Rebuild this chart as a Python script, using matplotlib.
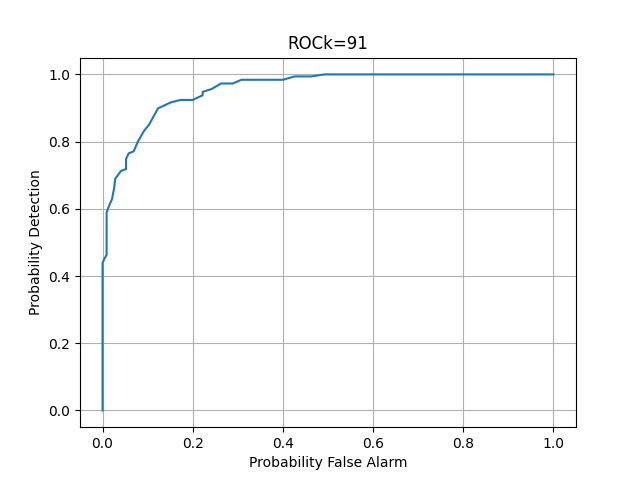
import matplotlib
matplotlib.use("Agg")
import matplotlib.pyplot as plt

# points
pfa = [0.0, 0.0, 0.004, 0.009, 0.009, 0.013, 0.021, 0.026, 0.028, 0.041, 0.052, 0.052,
       0.058, 0.069, 0.078, 0.092, 0.103, 0.123, 0.152, 0.173, 0.200, 0.222, 0.222,
       0.241, 0.263, 0.289, 0.308, 0.400, 0.426, 0.463, 0.492, 1.0]
pd = [0.0, 0.439, 0.451, 0.463, 0.589, 0.604, 0.629, 0.664, 0.689, 0.713, 0.718, 0.748,
      0.765, 0.771, 0.799, 0.832, 0.850, 0.899, 0.917, 0.924, 0.924, 0.938, 0.948,
      0.956, 0.973, 0.973, 0.984, 0.984, 0.994, 0.994, 1.0, 1.0]

plt.figure(figsize=(6.4, 4.8), dpi=100)
plt.plot(pfa, pd)
plt.xlabel("Probability False Alarm")
plt.ylabel("Probability Detection")
plt.title("ROCk=91")
plt.grid(True)
plt.savefig("out.png")
